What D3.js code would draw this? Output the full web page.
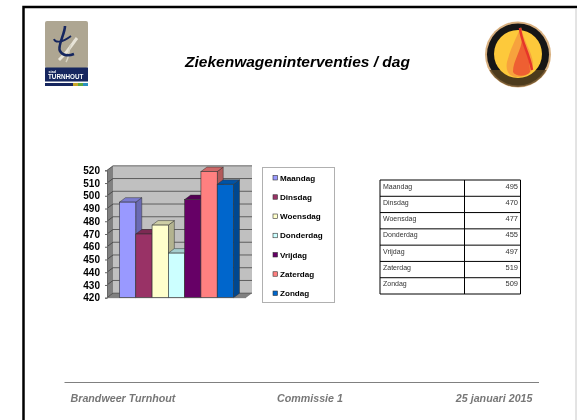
<!DOCTYPE html>
<html>
<head>
<meta charset="utf-8">
<script src="https://cdn.jsdelivr.net/npm/d3@7"></script>
<style>
  html, body { margin: 0; padding: 0; background: #fff; }
  svg { display: block; }
  text { font-family: "Liberation Sans", Arial, sans-serif; }
</style>
</head>
<body>
<script>
const days = ["Maandag", "Dinsdag", "Woensdag", "Donderdag", "Vrijdag", "Zaterdag", "Zondag"];
const calls = [495, 470, 477, 455, 497, 519, 509];
const dayColors = ["#9999ff", "#993366", "#ffffcc", "#ccffff", "#660066", "#ff8080", "#0066cc"];
const yTicks = [420, 430, 440, 450, 460, 470, 480, 490, 500, 510, 520];
const title = "Ziekenwageninterventies / dag";
const footer = ["Brandweer Turnhout", "Commissie 1", "25 januari 2015"];

let svg = d3.select("body").append("svg")
  .attr("width", 577)
  .attr("height", 420);

let defs = svg.append("defs");
defs.append("filter").attr("id", "soft")
  .append("feGaussianBlur").attr("stdDeviation", 0.35);
defs.append("clipPath").attr("id", "fireBottom")
  .append("rect").attr("x", 480).attr("y", 70).attr("width", 80).attr("height", 20);

let page = svg.append("g").attr("filter", "url(#soft)");

// slide frame
page.append("rect").attr("width", 577).attr("height", 420).attr("fill", "#fff");
page.append("path").attr("d", "M23.5,420V7H577").attr("fill", "none").attr("stroke", "#000").attr("stroke-width", 2.5);
page.append("line").attr("x1", 576).attr("x2", 576).attr("y1", 8).attr("y2", 420).attr("stroke", "#c8c8c8");

page.append("text")
  .attr("x", 297.5).attr("y", 66.7)
  .attr("text-anchor", "middle")
  .attr("font-size", 15.5).attr("font-weight", "bold").attr("font-style", "italic")
  .text(title);

// city logo
let logo = page.append("g");
logo.append("rect").attr("x", 45).attr("y", 21).attr("width", 43).attr("height", 47).attr("rx", 2).attr("fill", "#aea692");
logo.append("rect").attr("x", 45).attr("y", 67.5).attr("width", 43).attr("height", 14).attr("fill", "#12265e");
logo.append("rect").attr("x", 45).attr("y", 83).attr("width", 43).attr("height", 3).attr("fill", "#12265e");
logo.append("rect").attr("x", 73).attr("y", 83).attr("width", 5).attr("height", 3).attr("fill", "#c8a52a");
logo.append("rect").attr("x", 78).attr("y", 83).attr("width", 5).attr("height", 3).attr("fill", "#5da83c");
logo.append("rect").attr("x", 83).attr("y", 83).attr("width", 5).attr("height", 3).attr("fill", "#2a8fc0");
logo.append("path").attr("d", "M77,38C72,44 70,50 59,60").attr("fill", "none").attr("stroke", "#e8e4d8").attr("stroke-width", 3);
logo.append("path").attr("d", "M71,44C68,50 70,56 66,62").attr("fill", "none").attr("stroke", "#d8d4c4").attr("stroke-width", 1.5);
logo.append("path").attr("d", "M65,26C65,34 57,46 60,51C63,56 69,56 74,54").attr("fill", "none").attr("stroke", "#14265f").attr("stroke-width", 2.6);
logo.append("path").attr("d", "M54,39C55,43 62,43 71,36").attr("fill", "none").attr("stroke", "#14265f").attr("stroke-width", 1.8);
logo.append("text").attr("x", 48.5).attr("y", 72.5).attr("font-size", 3.6).attr("font-weight", "bold").attr("fill", "#fff").text("stad");
logo.append("text").attr("x", 48).attr("y", 79.3).attr("font-size", 6.3).attr("font-weight", "bold").attr("fill", "#fff").text("TURNHOUT");

// fire logo
let fire = page.append("g");
fire.append("circle").attr("cx", 518).attr("cy", 54.5).attr("r", 33).attr("fill", "#d8b080");
fire.append("circle").attr("cx", 518).attr("cy", 54.5).attr("r", 31).attr("fill", "#161412");
fire.append("circle").attr("cx", 518).attr("cy", 54.5).attr("r", 32.5).attr("fill", "#5c4520").attr("clip-path", "url(#fireBottom)").attr("opacity", 0.8);
fire.append("circle").attr("cx", 518).attr("cy", 54).attr("r", 24).attr("fill", "#fdc93a");
fire.append("path").attr("d", "M521,27C516,38 510,50 507,62C505,72 510,77 518,77C528,77 534,72 533,62C531,50 524,42 521,27Z").attr("fill", "#f7a23c");
fire.append("path").attr("d", "M522,38C522,50 513,60 513,72C516,77 526,77 530,72C530,60 526,50 522,38Z").attr("fill", "#ee5f30");
fire.append("path").attr("d", "M520,28C521,42 529,52 532,70").attr("fill", "none").attr("stroke", "#e5352a").attr("stroke-width", 2.5);

// chart geometry
let wallLeft = 113;
let wallRight = 252;
let depthX = 6;
let depthY = 4.5;

let yScale = d3.scaleLinear().domain([420, 520]).range([297.7, 170.3]);
let xScale = d3.scaleBand().domain(days).range([119.5, 233.5]).padding(0);

let chart = page.append("g");

chart.append("rect")
  .attr("x", wallLeft).attr("y", yScale(520) - depthY)
  .attr("width", wallRight - wallLeft).attr("height", yScale(420) - yScale(520))
  .attr("fill", "#c0c0c0");
chart.append("path")
  .attr("d", `M${wallLeft - depthX},${yScale(420)}V${yScale(520)}L${wallLeft},${yScale(520) - depthY}V${yScale(420) - depthY}Z`)
  .attr("fill", "#808080");
chart.append("path")
  .attr("d", `M${wallLeft - depthX},${yScale(420)}L${wallLeft},${yScale(420) - depthY}H${wallRight}L${wallRight - depthX},${yScale(420)}Z`)
  .attr("fill", "#808080");

chart.selectAll(".grid")
  .data(yTicks)
  .enter()
  .append("path")
  .classed("grid", true)
  .attr("d", d => `M${wallLeft - depthX},${yScale(d)}L${wallLeft},${yScale(d) - depthY}H${wallRight}`)
  .attr("fill", "none")
  .attr("stroke", "#333")
  .attr("stroke-width", 0.7);

let bars = chart.selectAll(".bar")
  .data(days)
  .enter()
  .append("g")
  .classed("bar", true);

function barColor(i, k) {
  return d3.color(dayColors[i]).darker(k).formatHex();
}

bars.append("path")
  .attr("d", (d, i) => {
    let x = xScale(d) + xScale.bandwidth();
    let y = yScale(calls[i]);
    return `M${x},${y}l${depthX},${-depthY}V${yScale(420) - depthY}L${x},${yScale(420)}Z`;
  })
  .attr("fill", (d, i) => barColor(i, 1))
  .attr("stroke", "#333")
  .attr("stroke-width", 0.5);

bars.append("path")
  .attr("d", (d, i) => {
    let x = xScale(d);
    let y = yScale(calls[i]);
    return `M${x},${y}l${depthX},${-depthY}h${xScale.bandwidth()}l${-depthX},${depthY}Z`;
  })
  .attr("fill", (d, i) => barColor(i, 0.6))
  .attr("stroke", "#333")
  .attr("stroke-width", 0.5);

bars.append("rect")
  .attr("x", d => xScale(d))
  .attr("y", (d, i) => yScale(calls[i]))
  .attr("width", xScale.bandwidth())
  .attr("height", (d, i) => yScale(420) - yScale(calls[i]))
  .attr("fill", (d, i) => dayColors[i])
  .attr("stroke", "#333")
  .attr("stroke-width", 0.6);

let leftAxis = d3.axisLeft(yScale).tickValues(yTicks).tickSize(2).tickPadding(5);
let yAxis = chart.append("g")
  .attr("transform", `translate(${wallLeft - depthX}, 0)`)
  .call(leftAxis);
yAxis.selectAll("path, line").attr("stroke", "#666");
yAxis.selectAll("text")
  .attr("font-family", "Liberation Sans")
  .attr("font-size", 10)
  .attr("font-weight", "bold")
  .attr("fill", "#000");
chart.append("line")
  .attr("x1", wallLeft - depthX).attr("x2", wallRight - depthX)
  .attr("y1", yScale(420)).attr("y2", yScale(420))
  .attr("stroke", "#666").attr("stroke-width", 0.7);

// legend
page.append("rect")
  .attr("x", 262.5).attr("y", 167.5).attr("width", 72).attr("height", 135)
  .attr("fill", "#fff").attr("stroke", "#b0b0b0");

let legendY = d3.scalePoint().domain(days).range([177.5, 293]);
let legend = page.selectAll(".legend")
  .data(days)
  .enter()
  .append("g")
  .classed("legend", true)
  .attr("transform", d => `translate(273, ${legendY(d)})`);
legend.append("rect")
  .attr("x", 0).attr("y", -2).attr("width", 4.5).attr("height", 4.5)
  .attr("fill", (d, i) => dayColors[i])
  .attr("stroke", "#333").attr("stroke-width", 0.6);
legend.append("text")
  .attr("x", 7).attr("y", 3)
  .attr("font-size", 8.1).attr("font-weight", "bold")
  .text(d => d);

// table
let tableLeft = 380;
let tableMid = 464.5;
let tableRight = 520.5;
let rowY = d3.scaleBand().domain(days).range([180, 294]);
let table = page.append("g");
table.selectAll(".cell")
  .data(days)
  .enter()
  .append("text")
  .classed("cell", true)
  .attr("x", tableLeft + 3)
  .attr("y", d => rowY(d) + 8.5)
  .attr("font-size", 7)
  .attr("fill", "#333")
  .text(d => d);
table.selectAll(".num")
  .data(days)
  .enter()
  .append("text")
  .classed("num", true)
  .attr("x", tableRight - 2.5)
  .attr("y", d => rowY(d) + 8.5)
  .attr("text-anchor", "end")
  .attr("font-size", 7.5)
  .attr("fill", "#333")
  .text((d, i) => calls[i]);
table.selectAll(".rowline")
  .data(days)
  .enter()
  .append("line")
  .classed("rowline", true)
  .attr("x1", tableLeft).attr("x2", tableRight)
  .attr("y1", d => rowY(d)).attr("y2", d => rowY(d))
  .attr("stroke", "#000").attr("stroke-width", 1);
table.append("path")
  .attr("d", `M${tableLeft},180V294H${tableRight}V180M${tableMid},180V294`)
  .attr("fill", "none").attr("stroke", "#000").attr("stroke-width", 1);

// footer
page.append("line")
  .attr("x1", 64.5).attr("x2", 539).attr("y1", 382.5).attr("y2", 382.5)
  .attr("stroke", "#808080");
let footerX = [70.5, 277, 532.5];
let footerAnchor = ["start", "start", "end"];
page.selectAll(".foot")
  .data(footer)
  .enter()
  .append("text")
  .classed("foot", true)
  .attr("x", (d, i) => footerX[i])
  .attr("y", 401.5)
  .attr("text-anchor", (d, i) => footerAnchor[i])
  .attr("font-size", 10.7)
  .attr("font-weight", "bold").attr("font-style", "italic")
  .attr("fill", "#777")
  .text(d => d);
</script>
</body>
</html>
